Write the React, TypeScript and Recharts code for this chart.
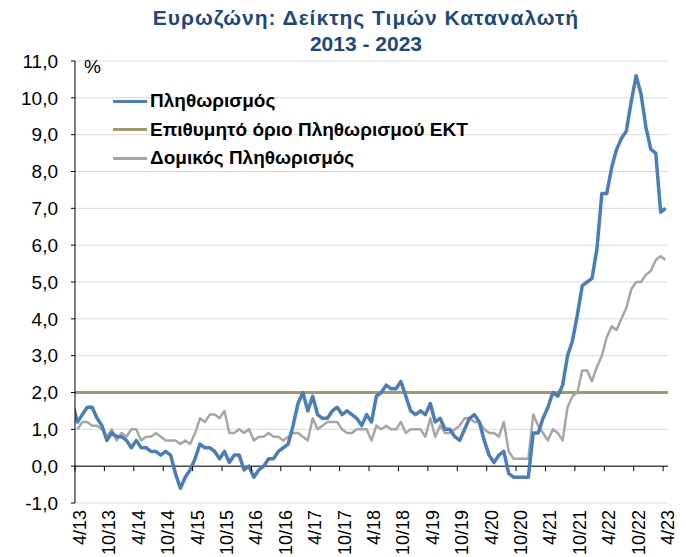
import { LineChart, Line, XAxis, YAxis, CartesianGrid, ReferenceLine } from 'recharts'

// Monthly values, Mar 2013 .. Apr 2023 (first month sits just left of the axis and is clipped)
const headline = [
  1.7, 1.2, 1.4, 1.6, 1.6, 1.3, 1.1, 0.7, 0.9, 0.8,
  0.8, 0.7, 0.5, 0.7, 0.5, 0.5, 0.4, 0.4, 0.3, 0.4, 0.3, -0.2,
  -0.6, -0.3, -0.1, 0.2, 0.6, 0.5, 0.5, 0.4, 0.2, 0.4, 0.1, 0.3,
  0.3, -0.1, 0.0, -0.3, -0.1, 0.0, 0.2, 0.2, 0.4, 0.5, 0.6, 1.1,
  1.7, 2.0, 1.5, 1.9, 1.4, 1.3, 1.3, 1.5, 1.6, 1.4, 1.5, 1.4,
  1.3, 1.1, 1.4, 1.2, 1.9, 2.0, 2.2, 2.1, 2.1, 2.3, 1.9, 1.5,
  1.4, 1.5, 1.4, 1.7, 1.2, 1.3, 1.0, 1.0, 0.8, 0.7, 1.0, 1.3,
  1.4, 1.2, 0.7, 0.3, 0.1, 0.3, 0.4, -0.2, -0.3, -0.3, -0.3, -0.3,
  0.9, 0.9, 1.3, 1.6, 2.0, 1.9, 2.2, 3.0, 3.4, 4.1, 4.9, 5.0,
  5.1, 5.9, 7.4, 7.4, 8.1, 8.6, 8.9, 9.1, 9.9, 10.6, 10.1, 9.2,
  8.6, 8.5, 6.9, 7.0,
]

const core = [
  null, 1.0, 1.2, 1.2, 1.1, 1.1, 1.0, 0.8, 1.0, 0.7,
  0.9, 0.8, 1.0, 1.0, 0.7, 0.8, 0.8, 0.9, 0.8, 0.7, 0.7, 0.7,
  0.6, 0.7, 0.6, 0.9, 1.3, 1.2, 1.4, 1.4, 1.3, 1.5, 0.9, 0.9,
  1.0, 0.9, 1.0, 0.7, 0.8, 0.8, 0.9, 0.8, 0.8, 0.7, 0.8, 0.9,
  0.9, 0.8, 0.7, 1.3, 1.0, 1.1, 1.2, 1.2, 1.2, 1.0, 0.9, 0.9,
  1.0, 1.0, 1.0, 0.7, 1.1, 1.0, 1.1, 1.0, 1.0, 1.2, 0.9, 1.0,
  1.0, 1.0, 0.8, 1.3, 0.8, 1.1, 0.9, 0.9, 1.0, 1.1, 1.3, 1.3,
  1.2, 1.2, 1.0, 0.9, 0.9, 0.8, 1.2, 0.4, 0.2, 0.2, 0.2, 0.2,
  1.4, 1.1, 0.9, 0.7, 1.0, 0.9, 0.7, 1.6, 1.9, 2.0, 2.6, 2.6,
  2.3, 2.7, 3.0, 3.5, 3.8, 3.7, 4.0, 4.3, 4.8, 5.0, 5.0, 5.2,
  5.3, 5.6, 5.7, 5.6,
]

const ecbTarget = 2.0

const tickLabels = [
  '4/13', '10/13', '4/14', '10/14', '4/15', '10/15', '4/16', '10/16', '4/17', '10/17',
  '4/18', '10/18', '4/19', '10/19', '4/20', '10/20', '4/21', '10/21', '4/22', '10/22', '4/23',
]

const yTicks = [-1, 0, 1, 2, 3, 4, 5, 6, 7, 8, 9, 10, 11]

const legendItems = [
  { name: 'Πληθωρισμός', color: '#4a7ebb' },
  { name: 'Επιθυμητό όριο Πληθωρισμού ΕΚΤ', color: '#a39a62' },
  { name: 'Δομικός Πληθωρισμός', color: '#a6a6a6' },
]

// month index 0 = 4/2013
const data = headline.map((v, i) => ({ m: i - 1, headline: v, core: core[i] }))
const xTicks = tickLabels.map((_, i) => i * 6 - 0.5)

const FONT = '"Liberation Sans", Arial, sans-serif'
const PLOT_TOP = 61
const PLOT_BOTTOM = 503
const ZERO_Y = PLOT_BOTTOM - (PLOT_BOTTOM - PLOT_TOP) / 12

function MonthTick(props: any) {
  const { x, payload } = props
  const idx = Math.round((payload.value + 0.5) / 6)
  const tx = x + 5
  const ty = PLOT_BOTTOM + 7
  return (
    <g>
      <line x1={x} x2={x} y1={ZERO_Y} y2={ZERO_Y + 5} stroke="#000" />
      <text
        x={tx}
        y={ty}
        transform={`rotate(-90, ${tx}, ${ty})`}
        textAnchor="end"
        dominantBaseline="central"
        fontSize={18}
        fontFamily={FONT}
        fill="#000"
      >
        {tickLabels[idx]}
      </text>
    </g>
  )
}

export default function App() {
  return (
    <div style={{ position: 'absolute', left: 0, top: 0, width: 686, height: 557, background: '#fff', fontFamily: FONT }}>
      <div
        style={{
          position: 'absolute', left: 23, top: 5, width: 686, textAlign: 'center',
          color: '#1f497d', fontWeight: 'bold', fontSize: 21, lineHeight: '26px',
        }}
      >
        <div style={{ letterSpacing: 1 }}>Ευρωζώνη: Δείκτης Τιμών Καταναλωτή</div>
        <div>2013 - 2023</div>
      </div>
      <LineChart width={686} height={557} data={data} margin={{ top: PLOT_TOP, right: 18, bottom: 0, left: 0 }}>
        <CartesianGrid horizontal vertical={false} stroke="#d9d9d9" />
        <XAxis
          dataKey="m"
          type="number"
          domain={[-0.5, 120.5]}
          allowDataOverflow
          ticks={xTicks}
          interval={0}
          height={54}
          axisLine={false}
          tickLine={false}
          tick={<MonthTick />}
        />
        <YAxis
          type="number"
          domain={[-1, 11]}
          ticks={yTicks}
          interval={0}
          width={75}
          tickSize={4}
          tickMargin={13}
          axisLine={{ stroke: '#000' }}
          tickLine={{ stroke: '#000' }}
          tick={{ fontSize: 19, fill: '#000', fontFamily: FONT }}
          tickFormatter={(v) => v.toFixed(1).replace('.', ',')}
        />
        <ReferenceLine y={0} stroke="#000" strokeWidth={1} />
        <ReferenceLine y={ecbTarget} stroke="#a39a62" strokeWidth={3} />
        <Line type="linear" dataKey="core" stroke="#a6a6a6" strokeWidth={2.5} dot={false} strokeLinejoin="round" isAnimationActive={false} />
        <Line type="linear" dataKey="headline" stroke="#4a7ebb" strokeWidth={3.5} dot={false} strokeLinejoin="round" isAnimationActive={false} />
      </LineChart>
      <div style={{ position: 'absolute', left: 84, top: 56, fontSize: 19 }}>%</div>
      <div style={{ position: 'absolute', left: 113, top: 87 }}>
        {legendItems.map((it) => (
          <div key={it.name} style={{ display: 'flex', alignItems: 'center', height: 28.5 }}>
            <div style={{ width: 34, height: 3, background: it.color, marginRight: 3 }} />
            <span style={{ fontWeight: 'bold', fontSize: 19, color: '#000' }}>{it.name}</span>
          </div>
        ))}
      </div>
    </div>
  )
}
